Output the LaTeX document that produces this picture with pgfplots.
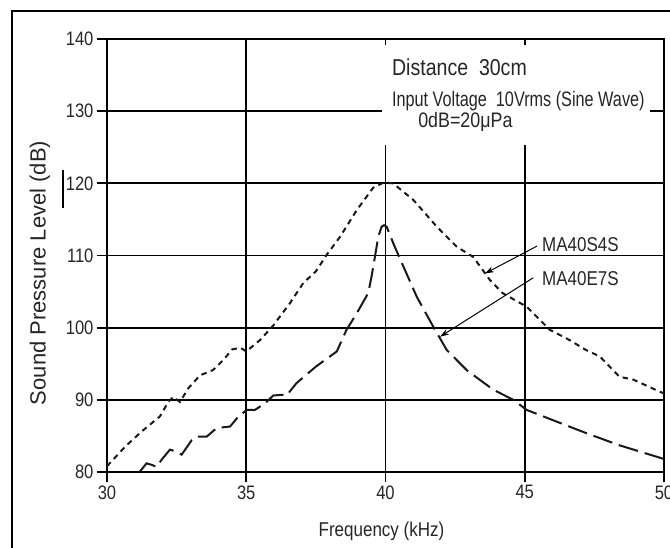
\documentclass[border=0pt]{standalone}
\usepackage{pgfplots}
\pgfplotsset{compat=1.18}
\usepackage{graphicx}
\usepackage{fontspec}
\setmainfont[FakeStretch=0.85]{Liberation Sans}
\newfontfamily\plainfont{Liberation Sans}
\usetikzlibrary{arrows.meta}
\begin{document}
\begin{tikzpicture}
\useasboundingbox (-107pt,-76pt) rectangle (563pt,472pt);
\begin{axis}[at={(0pt,0pt)}, anchor=south west, scale only axis, width=557pt, height=433pt,
  xmin=30, xmax=50, ymin=80, ymax=140,
  xtick={30,35,40,45,50}, ytick={80,90,...,140},
  grid=major, major grid style={black, line width=1.8pt},
  axis line style={black, line width=1.8pt},
  every tick/.style={black, line width=1.8pt},
  tick align=outside, major tick length=10pt,
  xtick pos=left, ytick pos=left,
  /pgf/number format/assume math mode=true,
  ticklabel style={font=\fontsize{19.5}{19.5}\selectfont, text=black!85},
]
\addplot[black!90, line width=2pt, dash pattern=on 5.5pt off 4.5pt] coordinates {
(30.0,80.8) (30.65,83.5) (31.24,85.6) (31.9,87.7) (32.2,89.7) (32.38,90.4) (32.62,89.7)
(32.92,91.6) (33.34,93.4) (33.8,94.1) (34.17,95.5) (34.5,97.0) (34.8,97.2) (35.0,96.7)
(35.5,98.3) (35.97,100.3) (36.57,103.4) (37.05,106.2) (37.5,107.8) (37.89,110.1)
(38.37,112.6) (38.97,116.3) (39.56,119.4) (39.93,120.1) (40.27,120.0) (41.0,117.7)
(41.84,114.0) (42.56,111.2) (43.15,109.8) (43.75,106.6) (44.2,104.8) (45.07,102.9)
(45.9,99.7) (46.6,98.3) (47.2,96.9) (47.7,96.0) (48.4,93.2) (48.9,92.8) (49.86,91.1) (50.0,90.9)
};
\addplot[black!90, line width=2pt, dash pattern=on 20pt off 7pt] coordinates {
(31.18,80.05) (31.42,81.2) (31.6,81.0) (31.78,80.7) (31.96,81.7) (32.26,83.1) (32.5,82.8)
(32.68,82.4) (33.04,84.4) (33.22,84.9) (33.58,84.9) (33.94,86.1) (34.42,86.3) (34.72,87.7)
(35.02,88.6) (35.31,88.6) (35.67,89.5) (35.97,90.6) (36.3,90.7) (36.45,90.6) (36.8,92.3)
(37.5,94.6) (38.0,96.0) (38.25,96.7) (38.6,99.7) (38.97,102.0) (39.38,104.8) (39.5,107.1)
(39.62,109.8) (39.74,112.6) (39.86,114.0) (39.95,114.2) (40.04,114.0) (40.3,111.5)
(40.64,108.5) (41.12,104.3) (41.72,100.1) (42.2,96.9) (42.92,94.1) (43.87,91.4)
(44.59,90.0) (45.07,88.6) (46.0,87.2) (47.2,85.4) (48.4,83.7) (50.0,81.8)
};
\fill[white] (axis cs:39.87,125.3) rectangle (axis cs:49.5,139.17);
\node[anchor=base west, inner sep=0pt, text=black!85, font=\fontsize{23}{23}\selectfont] at (axis cs:40.23,135.0) {Distance\ \ 30cm};
\node[anchor=base west, inner sep=0pt, text=black!85] at (axis cs:40.23,130.7) {\scalebox{0.91}[1]{\fontsize{21}{21}\selectfont Input Voltage\ \ 10Vrms (Sine Wave)}};
\node[anchor=base west, inner sep=0pt, text=black!85, font=\fontsize{21}{21}\selectfont] at (axis cs:41.17,127.7) {0dB=20μPa};
\node[anchor=base west, inner sep=0pt, text=black!85, font=\fontsize{20}{20}\selectfont] at (axis cs:45.62,110.5) {MA40S4S};
\node[anchor=base west, inner sep=0pt, text=black!85, font=\fontsize{20}{20}\selectfont] at (axis cs:45.62,105.9) {MA40E7S};
\draw[line width=1pt, -{Stealth[length=9pt,width=6pt]}] (axis cs:45.44,111.3) -- (axis cs:43.57,107.5);
\draw[line width=1pt, -{Stealth[length=9pt,width=6pt]}] (axis cs:45.3,106.9) -- (axis cs:41.96,98.75);
\end{axis}
\node[rotate=90, text=black!85, font=\plainfont\fontsize{22}{22}\selectfont] at (-67pt,199pt) {Sound Pressure Level (dB)};
\node[anchor=base, text=black!85, font=\fontsize{20}{20}\selectfont] at (274.5pt,-65pt) {Frequency (kHz)};
\draw[line width=1.6pt] (-95pt,-90pt) -- (-95pt,461pt) -- (580pt,461pt);
\draw[line width=1.3pt] (-44pt,302pt) -- (-44pt,264pt);
\end{tikzpicture}
\end{document}
